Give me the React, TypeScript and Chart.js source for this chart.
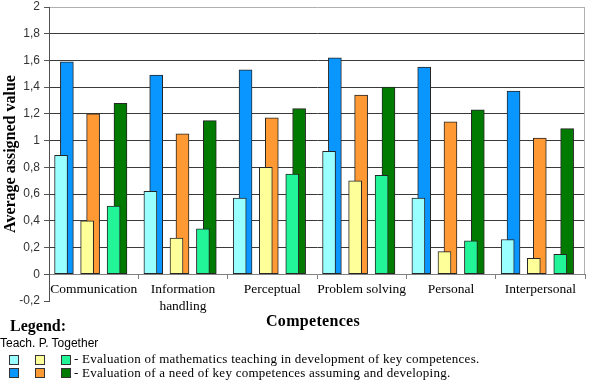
import React, { useEffect, useRef } from "react";
import { Chart, registerables } from "chart.js";

Chart.register(...registerables);

// ---- data ----
const categories: (string | string[])[] = [
  "Communication",
  ["Information", "handling"],
  "Perceptual",
  "Problem solving",
  "Personal",
  "Interpersonal",
];
const teachEval = [0.89, 0.62, 0.57, 0.92, 0.57, 0.26];
const teachNeed = [1.59, 1.49, 1.53, 1.62, 1.55, 1.37];
const pupilEval = [0.40, 0.27, 0.80, 0.70, 0.17, 0.12];
const pupilNeed = [1.20, 1.05, 1.17, 1.34, 1.14, 1.02];
const togetherEval = [0.51, 0.34, 0.75, 0.74, 0.25, 0.15];
const togetherNeed = [1.28, 1.15, 1.24, 1.40, 1.23, 1.09];
const yTicks = [-0.2, 0, 0.2, 0.4, 0.6, 0.8, 1, 1.2, 1.4, 1.6, 1.8, 2];
const legendHeader = "Teach. P. Together";
const legendRow1 = "- Evaluation of mathematics teaching in development of key competences.";
const legendRow2 = "- Evaluation of a need of key competences assuming and developing.";

// ---- styling / layout ----
const COLORS = {
  cyan: "#99FFFF",
  blue: "#0A96FF",
  yellow: "#FFFF99",
  orange: "#FF9933",
  lgreen: "#22F598",
  dgreen: "#007A00",
};
const BORDER = "#262626";
// offset of each series inside its category slot (category width = 1)
const OFFSETS = [-0.365, -0.3, -0.073, -0.006, 0.223, 0.3];

const seriesList = [
  { values: teachEval, color: COLORS.cyan },
  { values: teachNeed, color: COLORS.blue },
  { values: pupilEval, color: COLORS.yellow },
  { values: pupilNeed, color: COLORS.orange },
  { values: togetherEval, color: COLORS.lgreen },
  { values: togetherNeed, color: COLORS.dgreen },
];

const near = (a: number, b: number) => Math.abs(a - b) < 1e-6;

const framePlugin = {
  id: "frameRight",
  beforeDatasetsDraw(chart: any) {
    const { ctx, chartArea, scales } = chart;
    const y = scales.y;
    const x = Math.round(chartArea.right) - 0.5;
    ctx.save();
    ctx.strokeStyle = "#b0b0b0";
    ctx.lineWidth = 1;
    ctx.beginPath();
    ctx.moveTo(x, Math.round(y.getPixelForValue(2)));
    ctx.lineTo(x, Math.round(y.getPixelForValue(0)));
    ctx.stroke();
    ctx.restore();
  },
};

export default function App() {
  const ref = useRef<HTMLCanvasElement | null>(null);

  useEffect(() => {
    if (!ref.current) return;
    const xTickVals: number[] = [];
    for (let i = 0; i <= categories.length; i++) {
      xTickVals.push(i);
      if (i < categories.length) xTickVals.push(i + 0.5);
    }
    const chart = new Chart(ref.current, {
      type: "bar",
      data: {
        datasets: seriesList.map((s, k) => ({
          data: s.values.map((v, i) => ({ x: i + 0.5 + OFFSETS[k], y: v })),
          backgroundColor: s.color,
          borderColor: BORDER,
          borderWidth: 1,
          borderSkipped: false,
          barThickness: 13,
          grouped: false,
        })),
      },
      options: {
        animation: false,
        responsive: false,
        devicePixelRatio: 1,
        layout: { padding: { left: 0, right: 6, top: 7, bottom: 83 } },
        plugins: {
          legend: { display: false },
          tooltip: { enabled: false },
          title: { display: false },
        },
        scales: {
          x: {
            type: "linear",
            position: { y: 0 } as any,
            min: 0,
            max: categories.length,
            offset: false,
            afterBuildTicks: (scale: any) => {
              scale.ticks = xTickVals.map((v) => ({ value: v }));
            },
            grid: {
              offset: false,
              drawOnChartArea: false,
              drawTicks: true,
              tickLength: 4,
              color: (ctx: any) =>
                ctx.tick && Number.isInteger(ctx.tick.value) ? "#808080" : "rgba(0,0,0,0)",
            },
            border: { display: true, color: "#808080", width: 1 },
            ticks: {
              autoSkip: false,
              maxRotation: 0,
              minRotation: 0,
              padding: 3,
              color: "#000",
              font: { family: "Liberation Serif", size: 13.5, lineHeight: 1.25 },
              callback: (value: any) => {
                const v = Number(value);
                if (Number.isInteger(v)) return "";
                return categories[Math.floor(v)] as any;
              },
            },
          },
          y: {
            type: "linear",
            min: -0.2,
            max: 2,
            afterBuildTicks: (scale: any) => {
              scale.ticks = yTicks.map((v) => ({ value: v }));
            },
            afterFit: (scale: any) => {
              scale.width = 49;
              scale.paddingTop = 0;
              scale.paddingBottom = 0;
            },
            grid: {
              drawTicks: true,
              tickLength: 5,
              tickColor: "#555",
              color: (ctx: any) => {
                const v = ctx.tick ? ctx.tick.value : 0;
                if (near(v, 2)) return "#b0b0b0";
                if (near(v, 0) || near(v, -0.2)) return "rgba(0,0,0,0)";
                return "#3a3a3a";
              },
            },
            border: { display: true, color: "#505050", width: 1 },
            ticks: {
              padding: 4,
              color: "#333",
              font: { family: "Liberation Sans", size: 12 },
              callback: (value: any) =>
                String(Number(Number(value).toFixed(1))).replace(".", ","),
            },
            title: {
              display: true,
              text: "Average assigned value",
              color: "#000",
              padding: { top: 1, bottom: 0 },
              font: { family: "Liberation Serif", size: 16, weight: "bold" },
            },
          },
        },
      },
      plugins: [framePlugin],
    } as any);
    return () => chart.destroy();
  }, []);

  const box = (color: string, left: number, top: number) => (
    <div
      style={{
        position: "absolute",
        left,
        top,
        width: 8,
        height: 8,
        background: color,
        border: "1px solid #333",
      }}
    />
  );

  const serif = "'Liberation Serif', serif";

  return (
    <div style={{ position: "relative", width: 591, height: 384, background: "#fff" }}>
      <style>{`body{margin:0}`}</style>
      <canvas ref={ref} width={591} height={384} style={{ display: "block" }} />
      <div
        style={{
          position: "absolute",
          left: 266,
          top: 312,
          width: 94,
          textAlign: "center",
          fontFamily: serif,
          fontWeight: "bold",
          fontSize: 16,
          lineHeight: "18px",
          letterSpacing: "0.3px",
          whiteSpace: "nowrap",
        }}
      >
        Competences
      </div>
      <div
        style={{
          position: "absolute",
          left: 10,
          top: 317,
          fontFamily: serif,
          fontWeight: "bold",
          fontSize: 16,
          lineHeight: "18px",
          whiteSpace: "nowrap",
        }}
      >
        Legend:
      </div>
      <div
        style={{
          position: "absolute",
          left: 0,
          top: 336,
          fontFamily: "'Liberation Sans', sans-serif",
          fontSize: 12,
          lineHeight: "14px",
          whiteSpace: "nowrap",
        }}
      >
        {legendHeader}
      </div>
      {box(COLORS.cyan, 9, 355)}
      {box(COLORS.yellow, 35, 355)}
      {box(COLORS.lgreen, 61, 355)}
      {box(COLORS.blue, 9, 368)}
      {box(COLORS.orange, 35, 368)}
      {box(COLORS.dgreen, 61, 368)}
      <div
        style={{
          position: "absolute",
          left: 74,
          top: 352,
          fontFamily: serif,
          fontSize: 13,
          lineHeight: "14px",
          letterSpacing: "0.25px",
          whiteSpace: "nowrap",
        }}
      >
        {legendRow1}
      </div>
      <div
        style={{
          position: "absolute",
          left: 74,
          top: 366,
          fontFamily: serif,
          fontSize: 13,
          lineHeight: "14px",
          letterSpacing: "0.25px",
          whiteSpace: "nowrap",
        }}
      >
        {legendRow2}
      </div>
    </div>
  );
}
